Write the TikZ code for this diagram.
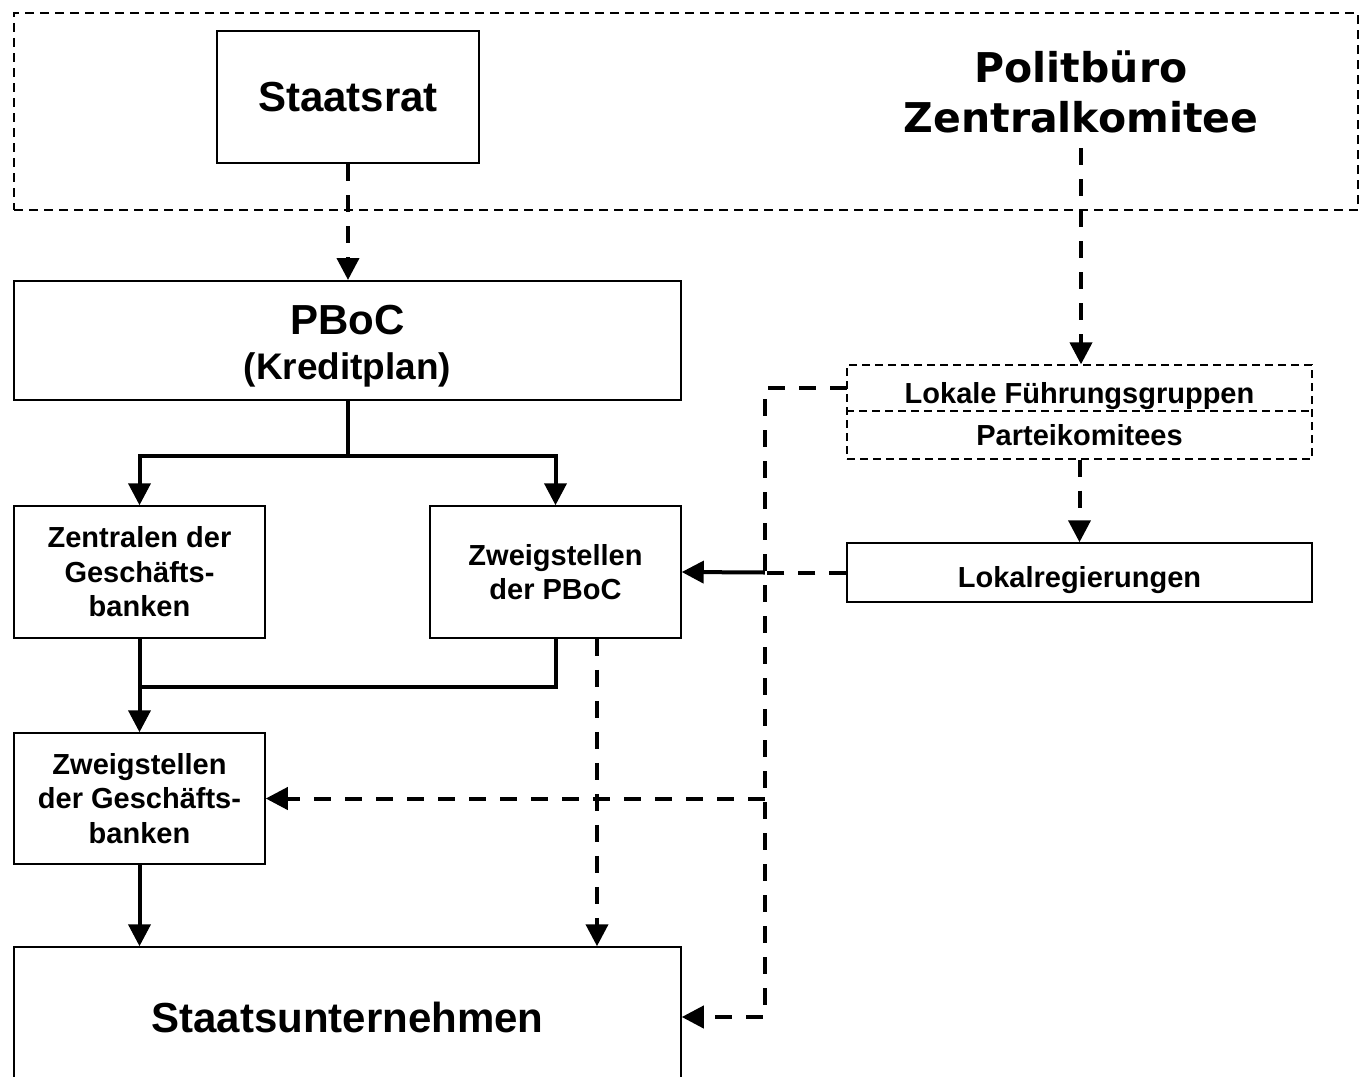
\documentclass[tikz,border=0pt]{standalone}
\usepackage{fontspec}
\setmainfont{Liberation Sans}
\newfontfamily\verd{DejaVu Sans}
\usetikzlibrary{arrows.meta,calc}
\newcommand\fbig{\fontsize{42}{50}\selectfont\bfseries}
\newcommand\fpol{\fontsize{41}{50}\selectfont\bfseries}
\newcommand\fmid{\fontsize{29}{34.5}\selectfont\bfseries}
\newcommand\fkp{\fontsize{37}{40}\selectfont\bfseries}
\begin{document}
\begin{tikzpicture}[x=1pt,y=-1pt,
  box/.style={draw, line width=1.5pt, inner sep=0pt, align=center},
  frame/.style={draw, line width=1.3pt, dash pattern=on 9pt off 6pt},
  dbox/.style={draw, line width=1.3pt, dash pattern=on 8pt off 5pt, inner sep=0pt},
  dline/.style={line width=1.3pt, dash pattern=on 8pt off 5pt},
  solidc/.style={line width=4pt},
  dashc/.style={line width=4pt, dash pattern=on 17pt off 14pt},
  arr/.style={-{Triangle[length=22pt,width=22pt]}}]
\useasboundingbox (0,0) rectangle (1370,1076);
\clip (0,0) rectangle (1370,1076);
% frame
\node[frame, minimum width=1344pt, minimum height=197pt] (top) at (686,111.5) {};
% nodes
\node[box, line width=2pt, minimum width=262pt, minimum height=132pt, font=\fbig] (staatsrat) at (348,97) {Staatsrat};
\node[font={\verd\fpol}, align=center, inner sep=0pt] (polit) at (1081,92) {Politbüro\\Zentralkomitee};
\node[box, line width=2pt, minimum width=667pt, minimum height=119pt] (pboc) at (347.5,340.5) {};
\node[font=\fbig, inner sep=0pt] (pboct) at (347.5,320) {PBoC};
\node[font=\fkp, inner sep=0pt] (kp) at (347.5,370) {(Kreditplan)};
\node[dbox, minimum width=465pt, minimum height=94pt] (lf) at (1079.5,412) {};
\node[inner sep=0pt, minimum width=465pt, minimum height=46pt, text height=30pt, text depth=0pt, font=\fmid] (lokale) at (1079.5,388) {Lokale Führungsgruppen};
\node[inner sep=0pt, minimum width=465pt, minimum height=48pt, font=\fmid] (partei) at (1079.5,435) {Parteikomitees};
\draw[dline] (lf.west |- 0,411) -- (lf.east |- 0,411);
\node[box, minimum width=465pt, minimum height=59pt, text height=30pt, text depth=0pt, font=\fmid] (lreg) at (1079.5,572.5) {Lokalregierungen};
\node[box, minimum width=251pt, minimum height=132pt, font=\fmid] (zentral) at (139.5,572) {Zentralen der\\Geschäfts-\\banken};
\node[box, minimum width=251pt, minimum height=132pt, font=\fmid] (zpboc) at (555.5,572) {Zweigstellen\\der PBoC};
\node[box, minimum width=251pt, minimum height=131pt, font=\fmid] (zgb) at (139.5,798.5) {Zweigstellen\\der Geschäfts-\\banken};
\node[box, minimum width=667pt, minimum height=140pt, font=\fbig] (stu) at (347.5,1017) {Staatsunternehmen};
% dashed connectors
\draw[dashc,arr] (staatsrat.south) -- (staatsrat.south |- pboc.north);
\coordinate (ps) at (1081,148);
\draw[dashc,arr] (ps) -- (ps |- lf.north);
\draw[dashc,arr] (lf.south) -- (lreg.north);
\coordinate (vx) at ($(lokale.west)+(-82,0)$);
\draw[dashc,arr] (lokale.west) -- (vx) |- (stu.east);
\draw[dashc,arr] (vx |- zgb.east) -- (zgb.east);
\draw[dashc] (lreg.west) -- (vx |- lreg.west);
\draw[solidc,arr] (vx |- lreg.west) -- (zpboc.east);
\coordinate (d1) at ($(zpboc.south)+(41.5,0)$);
\draw[dashc,arr] (d1) -- (d1 |- stu.north);
% solid connectors
\coordinate (s1) at ($(pboc.south)+(0,55)$);
\draw[solidc] (pboc.south) -- (s1);
\draw[solidc,arr] (s1) -| (zentral.north);
\draw[solidc,arr] (s1) -| (zpboc.north);
\coordinate (s2) at ($(zentral.south)+(0,48)$);
\draw[solidc] (zpboc.south) |- (s2);
\draw[solidc,arr] (zentral.south) -- (zgb.north);
\draw[solidc,arr] (zgb.south) -- (zgb.south |- stu.north);
\end{tikzpicture}
\end{document}
